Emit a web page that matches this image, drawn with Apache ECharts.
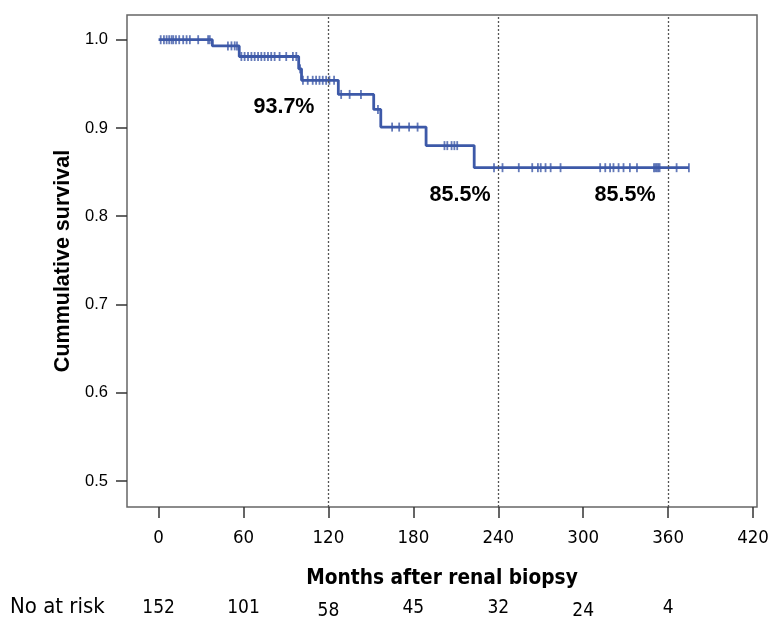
<!DOCTYPE html>
<html>
<head>
<meta charset="utf-8">
<script src="https://cdn.jsdelivr.net/npm/echarts@6/dist/echarts.min.js"></script>
<style>html,body{margin:0;padding:0;background:#fff;}#c{width:769px;height:620px;}</style>
</head>
<body>
<div id="c"></div>
<script>
// Kaplan-Meier step curve: event times (months) and survival after each step
const stepTimes = [0, 38, 57, 99, 101, 127, 152, 157, 189, 223, 374.7];
const stepSurv  = [1.0, 0.993, 0.981, 0.967, 0.954, 0.938, 0.921, 0.901, 0.880, 0.855, 0.855];
// Censored observation times (months)
const censorTimes = [
  1.5, 3.8, 5.7, 7.5, 9.2, 10.4, 12.3, 14.6, 17.4, 19.8, 22.1, 28, 35, 36.2,
  49, 51.5, 53.8, 55.4,
  58.5, 60.8, 63.2, 65.6, 67.9, 70.3, 72.6, 74.9, 77.3, 79.6, 82, 85.5, 90.2, 94.9, 97.3,
  100,
  102, 105.4, 108.9, 111.3, 113.7, 116, 118.4, 120.7, 124,
  129, 135, 143,
  155,
  165, 170, 177, 183,
  202, 204, 207, 209, 211,
  237, 243, 254.5, 264, 268, 270, 273.4, 277, 284, 312, 315.6, 319, 321.4, 325, 328.5, 333, 338,
  350, 351, 352, 353, 354, 366, 374.7
];
// Axis ticks
const xTicks = [0, 60, 120, 180, 240, 300, 360, 420];
const yTicks = [0.5, 0.6, 0.7, 0.8, 0.9, 1.0];
const refLines = [120, 240, 360];
// Number at risk
const riskLabel = 'No at risk';
const riskTimes = [0, 60, 120, 180, 240, 300, 360];
const riskCounts = [152, 101, 58, 45, 32, 24, 4];
const riskLowered = [false, false, true, false, false, true, false];
// Annotations
const annotTimes = [88.6, 213, 329.6];
const annotSurv = [0.924, 0.8243, 0.8243];
const annotText = ['93.7%', '85.5%', '85.5%'];

function levelAt(t) {
  let v = stepSurv[0];
  for (let i = 0; i < stepTimes.length; i++) { if (stepTimes[i] <= t) v = stepSurv[i]; }
  return v;
}

const BLUE = '#3D59A8';
const chart = echarts.init(document.getElementById('c'), null, {renderer: 'canvas'});
const narrow = "'DejaVu Sans Condensed', 'Liberation Sans Narrow', sans-serif";
const arial = "'Liberation Sans', Arial, sans-serif";

chart.setOption({
  animation: false,
  backgroundColor: '#fff',
  grid: { left: 127, right: 12, top: 15, bottom: 113, outerBoundsMode: 'none', containLabel: false,
    show: true, borderColor: '#666', borderWidth: 1.5, backgroundColor: 'transparent' },
  graphic: [{
    type: 'text', left: 10, top: 596, silent: true,
    style: { text: riskLabel, font: "22px 'DejaVu Sans Condensed', sans-serif", fill: '#000' }
  }],
  xAxis: [{
    type: 'value', min: -22.3, max: 422.8, position: 'bottom',
    axisLine: { show: false, onZero: false },
    splitLine: { show: false },
    axisTick: { show: true, customValues: xTicks, length: 11, lineStyle: { color: '#333', width: 1.5 } },
    axisLabel: { customValues: xTicks, margin: 22, fontFamily: narrow, fontSize: 18.5, color: '#000' },
    name: 'Months after renal biopsy', nameLocation: 'middle', nameGap: 61,
    nameTextStyle: { fontFamily: narrow, fontSize: 20.7, fontWeight: 'bold', color: '#000' }
  }, {
    type: 'value', min: -22.3, max: 422.8, position: 'bottom', offset: 84,
    axisLine: { show: false, onZero: false }, axisTick: { show: false }, splitLine: { show: false },
    axisLabel: { customValues: riskTimes, margin: 8, fontFamily: narrow, fontSize: 19, color: '#000',
      formatter: function (v) {
        const i = riskTimes.indexOf(v);
        if (i < 0) return '';
        return riskLowered[i] ? '{lo|' + riskCounts[i] + '}' : String(riskCounts[i]);
      },
      rich: { lo: { fontFamily: narrow, fontSize: 19, color: '#000', padding: [3, 0, 0, 0] } } }
  }],
  yAxis: {
    type: 'value', min: 0.4705, max: 1.028,
    axisLine: { show: false, onZero: false },
    splitLine: { show: false },
    axisTick: { show: true, customValues: yTicks, length: 11, lineStyle: { color: '#333', width: 1.5 } },
    axisLabel: { customValues: yTicks, margin: 19, fontFamily: arial, fontSize: 16.5, color: '#000',
      formatter: function (v) { return v.toFixed(1); } },
    name: 'Cummulative survival', nameLocation: 'middle', nameGap: 53,
    nameTextStyle: { fontFamily: arial, fontSize: 21.5, fontWeight: 'bold', color: '#000' }
  },
  series: [{
    type: 'line', step: 'end', showSymbol: false, symbol: 'none',
    data: stepTimes.map((t, i) => [t, stepSurv[i]]),
    lineStyle: { color: BLUE, width: 2.8 },
    markLine: {
      silent: true, symbol: 'none', label: { show: false },
      lineStyle: { color: '#555', type: [2, 2], width: 1.3 },
      data: refLines.map(v => ({ xAxis: v }))
    },
    z: 3
  }, {
    type: 'scatter', symbol: 'rect', symbolSize: [1.8, 9],
    data: censorTimes.map(t => [t, levelAt(t)]),
    itemStyle: { color: BLUE }, z: 4
  }, {
    type: 'scatter', symbolSize: 1, silent: true,
    itemStyle: { color: 'rgba(0,0,0,0)' },
    data: annotTimes.map((t, i) => [t, annotSurv[i]]),
    label: { show: true, position: 'inside', formatter: function (p) { return annotText[p.dataIndex]; },
      fontFamily: arial, fontSize: 21.5, fontWeight: 'bold', color: '#000', textBorderWidth: 0, opacity: 1 },
    z: 5
  }]
});
</script>
</body>
</html>
